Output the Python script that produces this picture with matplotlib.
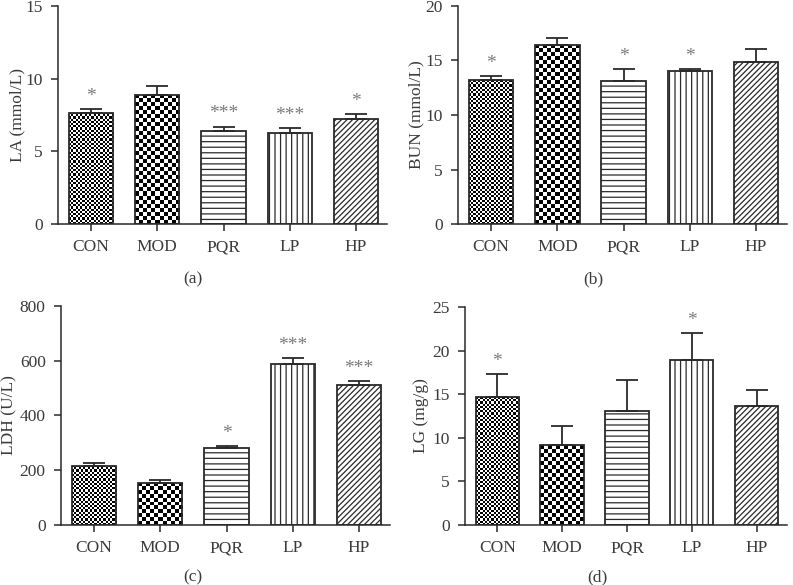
import matplotlib
matplotlib.use("Agg")
import matplotlib.pyplot as plt
import numpy as np

plt.rcParams["font.family"] = ["Liberation Serif", "DejaVu Serif"]
plt.rcParams["hatch.linewidth"] = 0.9

groups = ["CON", "MOD", "PQR", "LP", "HP"]

la_mean = [7.66, 8.90, 6.38, 6.28, 7.20]
la_err = [0.23, 0.62, 0.32, 0.32, 0.35]
la_stars = ["*", "", "***", "***", "*"]

bun_mean = [13.19, 16.44, 13.13, 14.02, 14.88]
bun_err = [0.40, 0.64, 1.10, 0.18, 1.16]
bun_stars = ["*", "", "*", "*", ""]

ldh_mean = [217, 155, 280, 588, 511]
ldh_err = [11, 11, 7, 22, 15]
ldh_stars = ["", "", "*", "***", "***"]

lg_mean = [14.68, 9.17, 13.11, 18.92, 13.61]
lg_err = [2.60, 2.14, 3.48, 3.06, 1.91]
lg_stars = ["*", "", "", "*", ""]

edge = "#2a2a2a"
txt = "#3a3a3a"
star_c = "#7a7a7a"
# fill style per group: checker cell size in px, or a hatch string
fills = [("checker", 2.2), ("checker", 4.0), ("hatch", "---"), ("hatch", "|||"), ("hatch", "//////")]

fig = plt.figure(figsize=(7.93, 5.85), dpi=100)
fig.patch.set_facecolor("white")

panels = [
    ([0.0731, 0.617, 0.415, 0.373], la_mean, la_err, la_stars, "LA (mmol/L)", 15, 5, (-0.10, 0.5), (0.243, 0.508), "(a)"),
    ([0.5776, 0.617, 0.415, 0.373], bun_mean, bun_err, bun_stars, "BUN (mmol/L)", 20, 5, (-0.103, 0.5), (0.748, 0.508), "(b)"),
    ([0.0769, 0.1026, 0.415, 0.3743], ldh_mean, ldh_err, ldh_stars, "LDH (U/L)", 800, 200, (-0.132, 0.5), (0.243, 0.0), "(c)"),
    ([0.5864, 0.1026, 0.406, 0.3726], lg_mean, lg_err, lg_stars, "LG (mg/g)", 25, 5, (-0.113, 0.5), (0.753, 0.0), "(d)"),
]

x = np.arange(len(groups))
width = 0.67

for rect, mean, err, stars, ylabel, ymax, ystep, lab_xy, cap_xy, cap in panels:
    ax = fig.add_axes(rect)
    ax.set_xlim(-0.5, 4.47)
    ax.set_ylim(0, ymax)
    bars = ax.bar(x, mean, width, facecolor="none", edgecolor=edge, linewidth=1.3, zorder=3)
    for b, (kind, spec) in zip(bars, fills):
        if kind == "hatch":
            b.set_hatch(spec)
        else:
            x0, y0 = b.get_x(), b.get_y()
            x1, y1 = x0 + b.get_width(), y0 + b.get_height()
            (px0, py0), (px1, py1) = ax.transData.transform([(x0, y0), (x1, y1)])
            nx = max(1, int(round((px1 - px0) / spec)))
            ny = max(1, int(round((py1 - py0) / spec)))
            ii, jj = np.indices((ny, nx))
            board = (ii + jj) % 2
            im = ax.imshow(board, cmap="gray", extent=(x0, x1, y0, y1), aspect="auto",
                           interpolation="nearest", zorder=2, vmin=0, vmax=1)
            im.set_clip_path(b)
    ax.errorbar(x, mean, yerr=[np.zeros(len(err)), err], fmt="none", ecolor=edge,
                elinewidth=1.3, capsize=8.2, capthick=1.3, zorder=2.5)
    for xi, m, e, s in zip(x, mean, err, stars):
        if s:
            ax.annotate(s, (xi, m + e), xytext=(0, 3), textcoords="offset points",
                        ha="center", va="bottom", fontsize=14, color=star_c)
    ax.set_xlim(-0.5, 4.47)
    ax.set_ylim(0, ymax)
    ax.set_yticks(np.arange(0, ymax + 1e-9, ystep))
    ax.set_xticks(x)
    ax.set_xticklabels(groups)
    ax.tick_params(axis="both", direction="out", length=5, width=1.1, color=edge,
                   labelsize=12.5, labelcolor=txt, pad=6)
    for sp in ["top", "right"]:
        ax.spines[sp].set_visible(False)
    for sp in ["left", "bottom"]:
        ax.spines[sp].set_linewidth(1.1)
        ax.spines[sp].set_color(edge)
    ax.set_ylabel(ylabel, fontsize=12.5, color=txt)
    ax.yaxis.set_label_coords(*lab_xy)
    fig.text(cap_xy[0], cap_xy[1], cap, ha="center", va="bottom", fontsize=12.5, color=txt)

fig.savefig("out.png", dpi=100, facecolor="white")
plt.close()
